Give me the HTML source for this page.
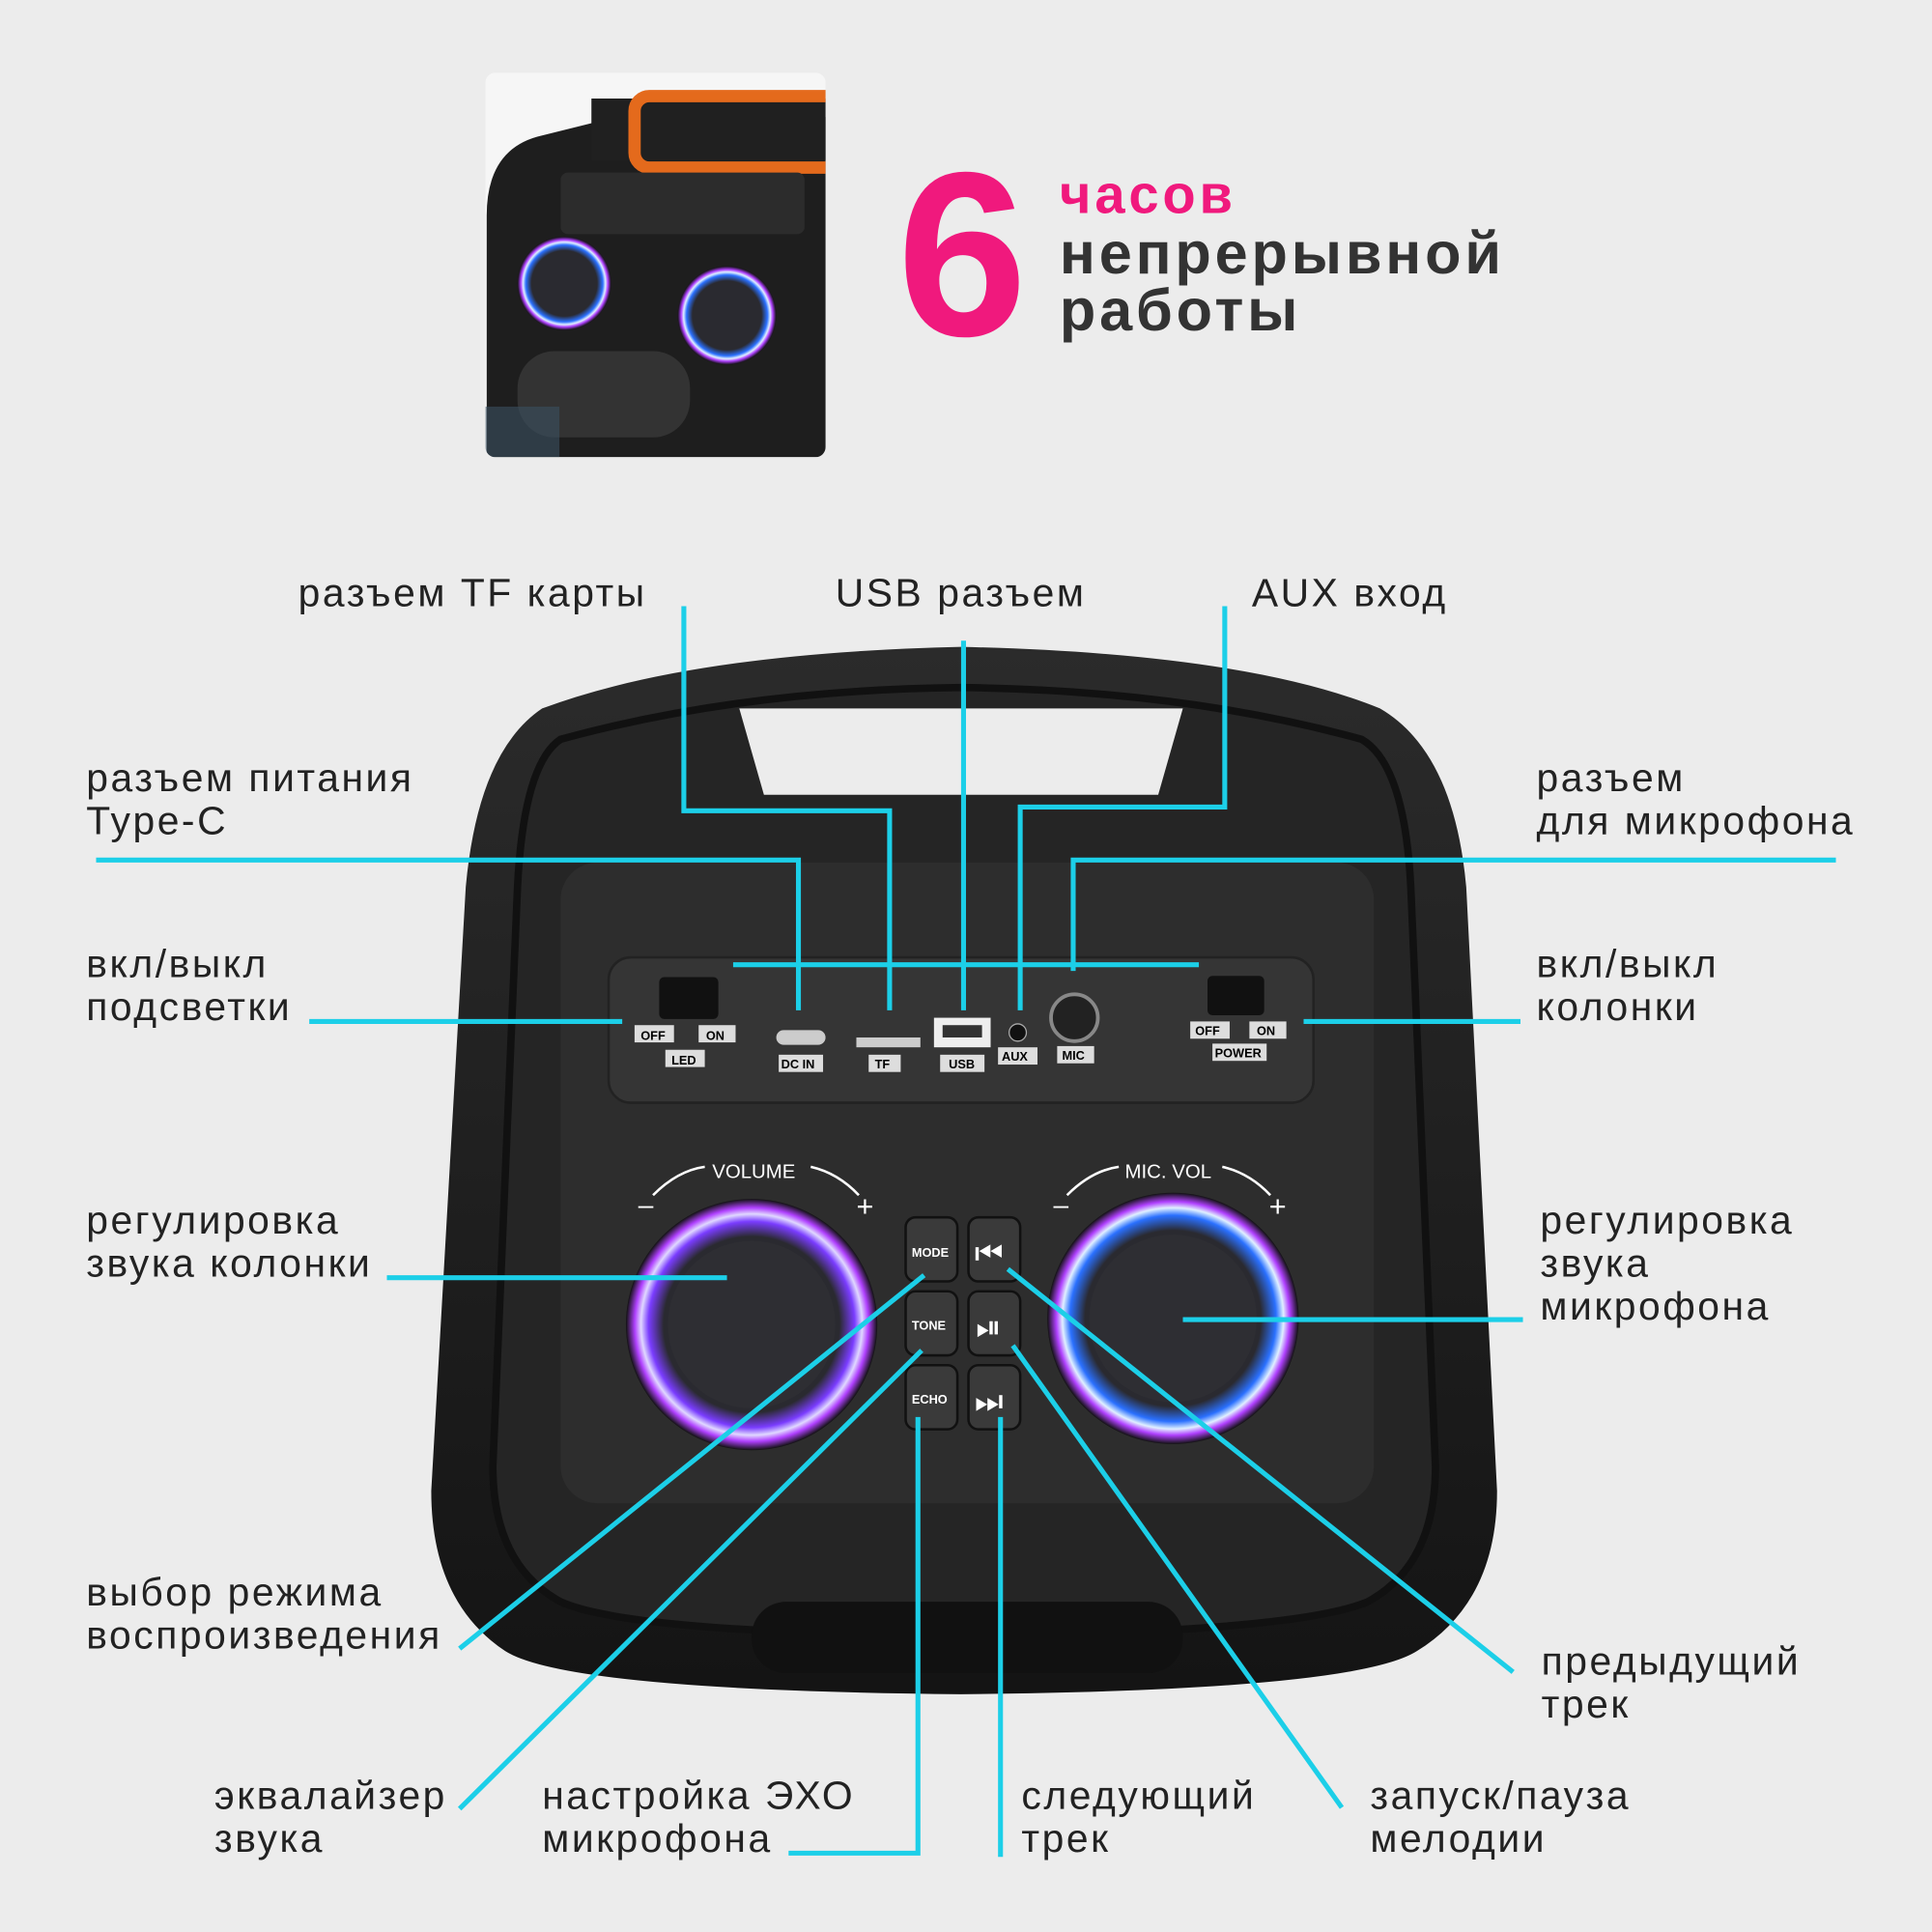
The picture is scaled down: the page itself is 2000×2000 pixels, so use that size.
<!DOCTYPE html>
<html><head><meta charset="utf-8"><style>
html,body{margin:0;padding:0;background:#ececec;}
svg{display:block;}
text{font-family:"Liberation Sans",sans-serif;}
</style></head><body>
<svg width="2000" height="2000" viewBox="0 0 1568 1568" xmlns="http://www.w3.org/2000/svg">
<defs>
<radialGradient id="ring" cx="50%" cy="50%" r="50%">
<stop offset="70%" stop-color="#2a2a30"/><stop offset="82%" stop-color="#7a3cff"/><stop offset="88%" stop-color="#e0d8ff"/><stop offset="93%" stop-color="#b040ff"/><stop offset="100%" stop-color="#111"/>
</radialGradient>
<radialGradient id="ring2" cx="50%" cy="50%" r="50%">
<stop offset="70%" stop-color="#2a2a30"/><stop offset="82%" stop-color="#2a70ff"/><stop offset="88%" stop-color="#e0f0ff"/><stop offset="93%" stop-color="#b040ff"/><stop offset="100%" stop-color="#111"/>
</radialGradient>
<linearGradient id="body" x1="0" y1="0" x2="0" y2="1"><stop offset="0" stop-color="#2b2b2b"/><stop offset="1" stop-color="#141414"/></linearGradient>
<clipPath id="th"><rect x="394" y="59" width="276" height="312" rx="8"/></clipPath>
</defs>
<rect width="1568" height="1568" fill="#ececec"/>

<g clip-path="url(#th)">
<rect x="394" y="59" width="276" height="312" fill="#f6f6f6"/>
<path d="M395 175 Q395 120 440 110 L500 95 L700 95 L700 371 L395 371 Z" fill="#1e1e1e"/>
<path d="M480 80 L700 80 L700 130 L480 130 Z" fill="#202020"/>
<rect x="515" y="78" width="170" height="58" rx="12" fill="none" stroke="#e46a1c" stroke-width="10"/>
<rect x="455" y="140" width="198" height="50" rx="6" fill="#2c2c2c"/>
<circle cx="458" cy="230" r="38" fill="url(#ring2)"/>
<circle cx="590" cy="256" r="40" fill="url(#ring2)"/>
<rect x="420" y="285" width="140" height="70" rx="30" fill="#333"/>
<rect x="394" y="330" width="60" height="41" fill="#3a5060" opacity=".6"/>
</g>

<g letter-spacing="3">
<text x="728" y="272" font-size="190" font-weight="bold" fill="#f0197d" letter-spacing="0">6</text>
<text x="860" y="173" font-size="44" font-weight="bold" fill="#f0197d">часов</text>
<text x="860" y="222" font-size="48" font-weight="bold" fill="#333">непрерывной</text>
<text x="860" y="268" font-size="48" font-weight="bold" fill="#333">работы</text>
</g>

<path d="M440 575 Q560 530 780 525 Q1010 530 1120 575 Q1180 610 1190 720 L1215 1210 Q1215 1300 1150 1340 Q1100 1372 780 1375 Q460 1372 410 1340 Q350 1300 350 1210 L378 720 Q388 610 440 575 Z" fill="url(#body)"/>
<path d="M455 600 Q600 560 780 558 Q960 560 1105 600 Q1140 620 1145 720 L1165 1190 Q1165 1270 1110 1300 Q1050 1325 780 1328 Q510 1325 455 1300 Q400 1270 400 1190 L420 720 Q425 620 455 600 Z" fill="#252525" stroke="#111" stroke-width="6"/>
<path d="M600 575 L960 575 L940 645 L620 645 Z" fill="#ececec"/>
<rect x="455" y="700" width="660" height="520" rx="30" fill="#2d2d2d"/>
<rect x="494" y="777" width="572" height="118" rx="18" fill="#353535" stroke="#222" stroke-width="2"/>
<rect x="610" y="1300" width="350" height="58" rx="28" fill="#111"/>
<rect x="535" y="793" width="48" height="34" rx="4" fill="#111"/>
<rect x="515" y="832" width="32" height="14" fill="#ddd"/><text x="520" y="844" font-size="10" font-weight="bold">OFF</text>
<rect x="567" y="832" width="30" height="14" fill="#ddd"/><text x="573" y="844" font-size="10" font-weight="bold">ON</text>
<rect x="540" y="852" width="32" height="14" fill="#ddd"/><text x="545" y="864" font-size="10" font-weight="bold">LED</text>
<rect x="630" y="836" width="40" height="12" rx="6" fill="#ccc"/>
<rect x="632" y="856" width="36" height="14" fill="#ddd"/><text x="634" y="867" font-size="10" font-weight="bold">DC IN</text>
<rect x="695" y="842" width="52" height="8" fill="#ccc"/>
<rect x="705" y="856" width="26" height="14" fill="#ddd"/><text x="710" y="867" font-size="10" font-weight="bold">TF</text>
<rect x="758" y="826" width="46" height="24" fill="#eee"/><rect x="765" y="832" width="32" height="10" fill="#333"/>
<rect x="763" y="856" width="36" height="14" fill="#ddd"/><text x="770" y="867" font-size="10" font-weight="bold">USB</text>
<circle cx="826" cy="838" r="7" fill="#111" stroke="#aaa"/>
<rect x="810" y="850" width="32" height="14" fill="#ddd"/><text x="813" y="861" font-size="10" font-weight="bold">AUX</text>
<circle cx="872" cy="826" r="19" fill="#222" stroke="#888" stroke-width="3"/>
<rect x="858" y="849" width="30" height="14" fill="#ddd"/><text x="862" y="860" font-size="10" font-weight="bold">MIC</text>
<rect x="980" y="792" width="46" height="32" rx="4" fill="#111"/>
<rect x="966" y="829" width="32" height="14" fill="#ddd"/><text x="970" y="840" font-size="10" font-weight="bold">OFF</text>
<rect x="1014" y="829" width="30" height="14" fill="#ddd"/><text x="1020" y="840" font-size="10" font-weight="bold">ON</text>
<rect x="984" y="847" width="44" height="14" fill="#ddd"/><text x="986" y="858" font-size="10" font-weight="bold">POWER</text>
<circle cx="610" cy="1075" r="102" fill="url(#ring)"/>
<circle cx="610" cy="1075" r="68" fill="#2e2e33"/>
<circle cx="952" cy="1070" r="102" fill="url(#ring2)"/>
<circle cx="952" cy="1070" r="68" fill="#2e2e33"/>
<text x="578" y="956" font-size="16" fill="#fff">VOLUME</text>
<text x="913" y="956" font-size="16" fill="#fff">MIC. VOL</text>
<text x="518" y="985" font-size="22" fill="#fff">–</text><text x="695" y="987" font-size="24" fill="#fff">+</text>
<text x="855" y="985" font-size="22" fill="#fff">–</text><text x="1030" y="987" font-size="24" fill="#fff">+</text>
<path d="M530 970 Q550 950 572 947 M658 947 Q680 952 697 970" stroke="#fff" stroke-width="2" fill="none"/>
<path d="M866 970 Q886 950 908 947 M992 947 Q1014 952 1031 970" stroke="#fff" stroke-width="2" fill="none"/>
<g fill="#3a3a3a" stroke="#111" stroke-width="2">
<rect x="735" y="988" width="42" height="52" rx="8"/><rect x="735" y="1048" width="42" height="52" rx="8"/><rect x="735" y="1108" width="42" height="52" rx="8"/>
<rect x="786" y="988" width="42" height="52" rx="8"/><rect x="786" y="1048" width="42" height="52" rx="8"/><rect x="786" y="1108" width="42" height="52" rx="8"/>
</g>
<text x="740" y="1020" font-size="10" font-weight="bold" fill="#fff">MODE</text>
<text x="740" y="1079" font-size="10" font-weight="bold" fill="#fff">TONE</text>
<text x="740" y="1139" font-size="10" font-weight="bold" fill="#fff">ECHO</text>
<text x="791" y="1026" font-size="26" fill="#fff">⏮</text>
<text x="792" y="1086" font-size="26" fill="#fff">⏯</text>
<text x="791" y="1146" font-size="26" fill="#fff">⏭</text>

<g stroke="#1ccfe8" stroke-width="4" fill="none">
<polyline points="555,492 555,658 722,658 722,820"/>
<polyline points="782,520 782,820"/>
<polyline points="994,492 994,655 828,655 828,820"/>
<polyline points="78,698 648,698 648,820"/>
<polyline points="1490,698 871,698 871,788"/>
<line x1="595" y1="783" x2="973" y2="783"/>
<line x1="251" y1="829" x2="505" y2="829"/>
<line x1="1058" y1="829" x2="1234" y2="829"/>
<line x1="314" y1="1037" x2="590" y2="1037"/>
<line x1="960" y1="1071" x2="1236" y2="1071"/>
<line x1="373" y1="1338" x2="750" y2="1035"/>
<line x1="373" y1="1468" x2="748" y2="1096"/>
<polyline points="640,1504 745,1504 745,1150"/>
<line x1="812" y1="1507" x2="812" y2="1150"/>
<line x1="1089" y1="1467" x2="822" y2="1092"/>
<line x1="1228" y1="1357" x2="818" y2="1030"/>
</g>

<g font-size="32" fill="#222" letter-spacing="2">
<text x="242" y="492">разъем TF карты</text>
<text x="678" y="492">USB разъем</text>
<text x="1016" y="492">AUX вход</text>
<text x="70" y="642">разъем питания</text><text x="70" y="677">Type-C</text>
<text x="1247" y="642">разъем</text><text x="1247" y="677">для микрофона</text>
<text x="70" y="793">вкл/выкл</text><text x="70" y="828">подсветки</text>
<text x="1247" y="793">вкл/выкл</text><text x="1247" y="828">колонки</text>
<text x="70" y="1001">регулировка</text><text x="70" y="1036">звука колонки</text>
<text x="1250" y="1001">регулировка</text><text x="1250" y="1036">звука</text><text x="1250" y="1071">микрофона</text>
<text x="70" y="1303">выбор режима</text><text x="70" y="1338">воспроизведения</text>
<text x="1251" y="1359">предыдущий</text><text x="1251" y="1394">трек</text>
<text x="174" y="1468">эквалайзер</text><text x="174" y="1503">звука</text>
<text x="440" y="1468">настройка ЭХО</text><text x="440" y="1503">микрофона</text>
<text x="829" y="1468">следующий</text><text x="829" y="1503">трек</text>
<text x="1112" y="1468">запуск/пауза</text><text x="1112" y="1503">мелодии</text>
</g>
</svg>
</body></html>
